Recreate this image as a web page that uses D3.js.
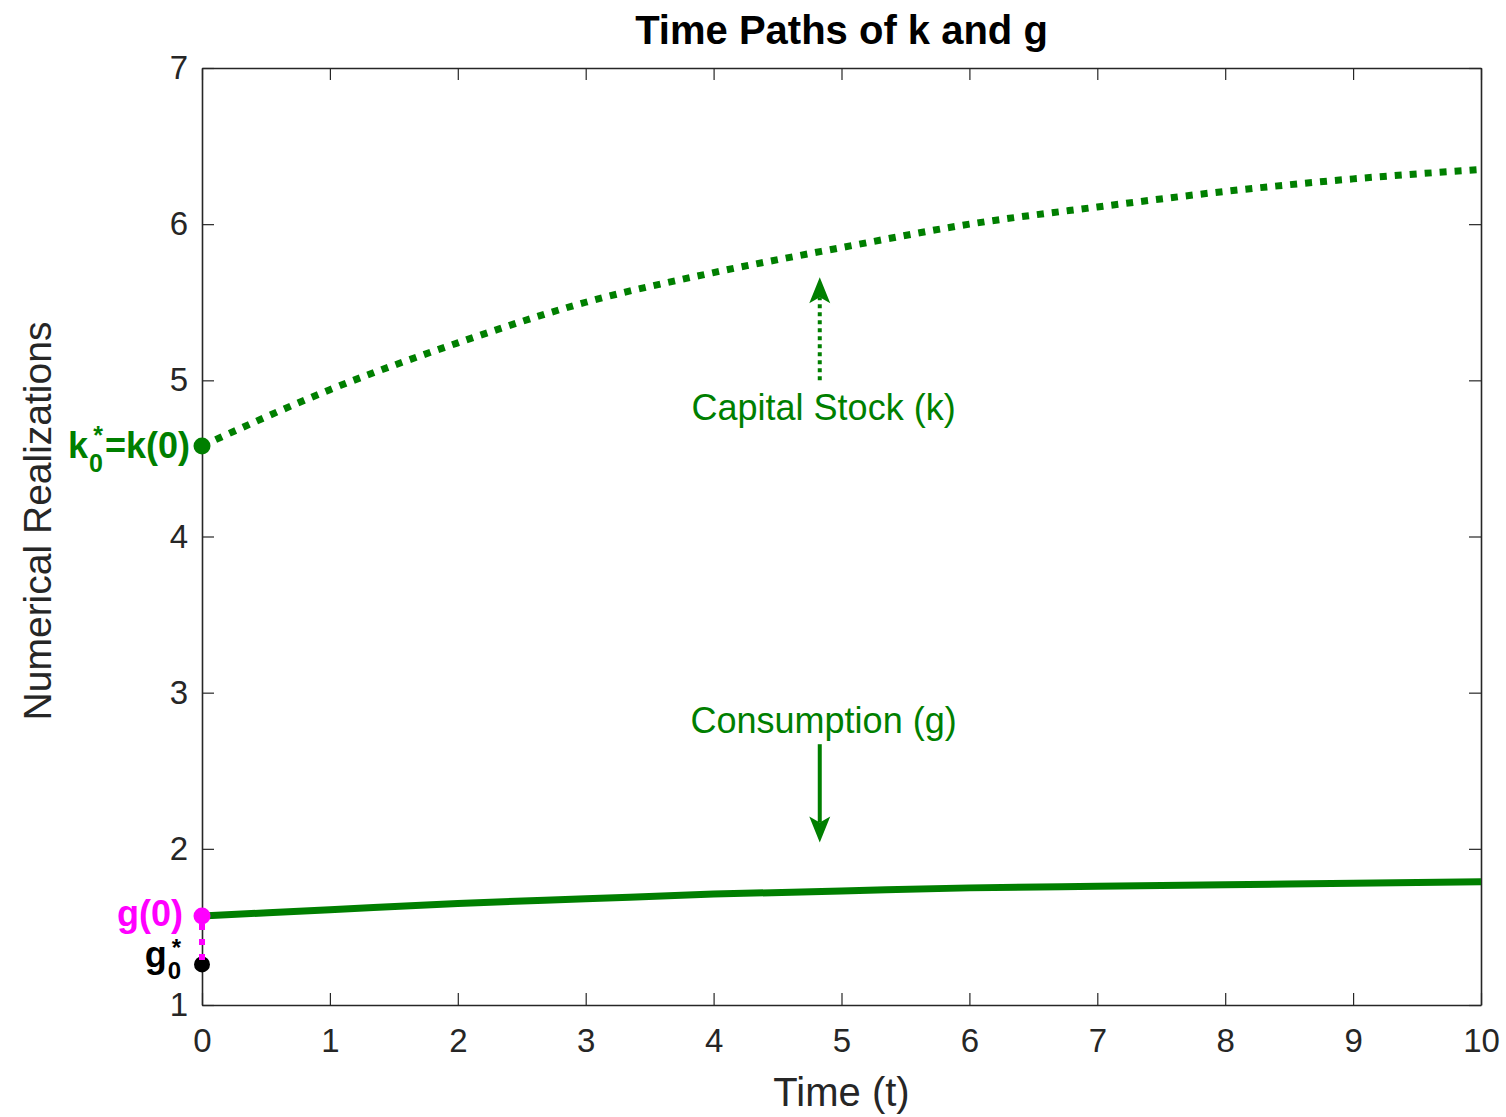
<!DOCTYPE html>
<html>
<head>
<meta charset="utf-8">
<script src="https://cdn.jsdelivr.net/npm/d3@7"></script>
<style>
  body { margin: 0; background: #fff; }
  svg { font-family: "Liberation Sans", Arial, Helvetica, sans-serif; }
</style>
</head>
<body>
<svg id="chart"></svg>
<script>
// ------ data
var timeT = [0, 1, 2, 3, 4, 5, 6, 7, 8, 9, 10];
var capitalK = [4.58, 4.94, 5.24, 5.50, 5.69, 5.85, 6.00, 6.11, 6.21, 6.29, 6.35];
var consumptionG = [1.57, 1.61, 1.65, 1.68, 1.71, 1.73, 1.75, 1.76, 1.77, 1.78, 1.79];
var gStar0 = 1.26;
var xTicks = [0, 1, 2, 3, 4, 5, 6, 7, 8, 9, 10];
var yTicks = [1, 2, 3, 4, 5, 6, 7];

// Margins and sizes
var W = 1506, H = 1117;
var margin = {top: 68, right: 25, bottom: 112, left: 202},
    width = W - margin.left - margin.right,
    height = H - margin.top - margin.bottom;

var green = "#007f00", magenta = "#ff00ff", axisCol = "#262626";

var svg = d3.select("#chart").attr("width", W).attr("height", H);
var g = svg.append("g").attr("transform", "translate(" + margin.left + "," + margin.top + ")");

var x = d3.scaleLinear().domain([0, 10]).range([0, width]);
var y = d3.scaleLinear().domain([1, 7]).range([height, 0]);

// ------- axes (ticks inward, box all round)
var tickLen = 12;
function styleAxis(sel) {
  sel.selectAll("path").attr("stroke", axisCol).attr("stroke-width", 1.6);
  sel.selectAll("line").attr("stroke", axisCol).attr("stroke-width", 1.2);
  sel.selectAll("text").attr("fill", axisCol).style("font-size", "33px").attr("font-family", null);
}
g.append("g").attr("transform", "translate(0," + height + ")")
  .call(d3.axisBottom(x).tickValues(xTicks).tickSize(-tickLen).tickSizeOuter(0).tickPadding(24).tickFormat(d3.format("d")))
  .call(styleAxis);
g.append("g").call(d3.axisTop(x).tickValues(xTicks).tickSize(-tickLen).tickSizeOuter(0).tickFormat(""))
  .call(styleAxis);
g.append("g")
  .call(d3.axisLeft(y).tickValues(yTicks).tickSize(-tickLen).tickSizeOuter(0).tickPadding(14).tickFormat(d3.format("d")))
  .call(styleAxis);
g.append("g").attr("transform", "translate(" + width + ",0)")
  .call(d3.axisRight(y).tickValues(yTicks).tickSize(-tickLen).tickSizeOuter(0).tickFormat(""))
  .call(styleAxis);

// ------- axis labels and title
svg.append("text").attr("x", margin.left + width / 2).attr("y", 1106)
  .attr("text-anchor", "middle").style("font-size", "40px").attr("fill", axisCol).text("Time (t)");
svg.append("text").attr("transform", "translate(51," + 521 + ") rotate(-90)")
  .attr("text-anchor", "middle").style("font-size", "39px").attr("fill", axisCol).text("Numerical Realizations");
svg.append("text").attr("x", margin.left + width / 2).attr("y", 44)
  .attr("text-anchor", "middle").style("font-size", "40px").style("font-weight", "bold").text("Time Paths of k and g");

// ------- lines
var line = d3.line().x(function(d, i) { return x(timeT[i]); }).y(function(d) { return y(d); })
  .curve(d3.curveMonotoneX);

g.append("path").datum(capitalK).attr("d", line)
  .attr("fill", "none").attr("stroke", green).attr("stroke-width", 7)
  .attr("stroke-dasharray", "7,8");
g.append("path").datum(consumptionG).attr("d", line)
  .attr("fill", "none").attr("stroke", green).attr("stroke-width", 7);

// ------- g0* to g(0) magenta dotted link
g.append("circle").attr("cx", x(0)).attr("cy", y(gStar0)).attr("r", 8)
  .attr("fill", "#000");
g.append("line").attr("x1", x(0)).attr("x2", x(0))
  .attr("y1", y(consumptionG[0]) + 8).attr("y2", y(gStar0) + 2)
  .attr("stroke", magenta).attr("stroke-width", 6).attr("stroke-dasharray", "6,9");
g.append("circle").attr("cx", x(0)).attr("cy", y(consumptionG[0])).attr("r", 8.5)
  .attr("fill", magenta);
g.append("circle").attr("cx", x(0)).attr("cy", y(capitalK[0])).attr("r", 8.5)
  .attr("fill", green);

// ------- arrows
function arrowHead(xp, yp, dir) {
  // dir = -1 points up, +1 points down
  var L = 26, hw = 10.5, notch = 20;
  var pts = [[xp, yp], [xp - hw, yp - dir * L], [xp, yp - dir * notch], [xp + hw, yp - dir * L]];
  g.append("path").attr("d", "M" + pts.map(function(p) { return p.join(","); }).join("L") + "Z")
    .attr("fill", green);
}
var arrowT = 4.83;
g.append("line").attr("x1", x(arrowT)).attr("x2", x(arrowT))
  .attr("y1", y(5.0)).attr("y2", y(5.66) + 20)
  .attr("stroke", green).attr("stroke-width", 4).attr("stroke-dasharray", "4,4");
arrowHead(x(arrowT), y(5.66), -1);

g.append("line").attr("x1", x(arrowT)).attr("x2", x(arrowT))
  .attr("y1", y(2.67)).attr("y2", y(2.04) - 20)
  .attr("stroke", green).attr("stroke-width", 4);
arrowHead(x(arrowT), y(2.04), 1);

g.append("text").attr("x", x(4.86)).attr("y", y(4.745)).attr("text-anchor", "middle")
  .style("font-size", "36px").attr("fill", green).text("Capital Stock (k)");
g.append("text").attr("x", x(4.86)).attr("y", y(2.74)).attr("text-anchor", "middle")
  .style("font-size", "36px").attr("fill", green).text("Consumption (g)");

// ------- point labels (base letter with stacked * and 0, built right to left)
function addText(xp, yp, str, size, col) {
  return svg.append("text").attr("x", xp).attr("y", yp).attr("text-anchor", "end")
    .style("font-size", size + "px").style("font-weight", "bold").attr("fill", col).text(str);
}
function stackedLabel(xRight, yBase, base, tail, col, supUp, subDown, smallSize) {
  var xr = xRight;
  if (tail) {
    var t = addText(xr, yBase, tail, 36, col);
    xr -= t.node().getComputedTextLength() + 2;
  }
  // * above and 0 below in one text element, both right-aligned at xr
  var s = svg.append("text").attr("text-anchor", "end").style("font-size", smallSize + "px")
    .style("font-weight", "bold").attr("fill", col);
  s.append("tspan").attr("x", xr).attr("y", yBase - supUp).text("*");
  var z = s.append("tspan").attr("x", xr).attr("y", yBase + subDown).text("0");
  xr -= z.node().getComputedTextLength() + 1;
  addText(xr, yBase, base, 36, col);
}
stackedLabel(190, margin.top + y(capitalK[0]) + 12, "k", "=k(0)", green, 14, 14, 25);

addText(183, margin.top + y(consumptionG[0]) + 10, "g(0)", 36, magenta);

stackedLabel(181, margin.top + y(gStar0) + 3, "g", null, "#000", 11, 12, 24);
</script>
</body>
</html>
